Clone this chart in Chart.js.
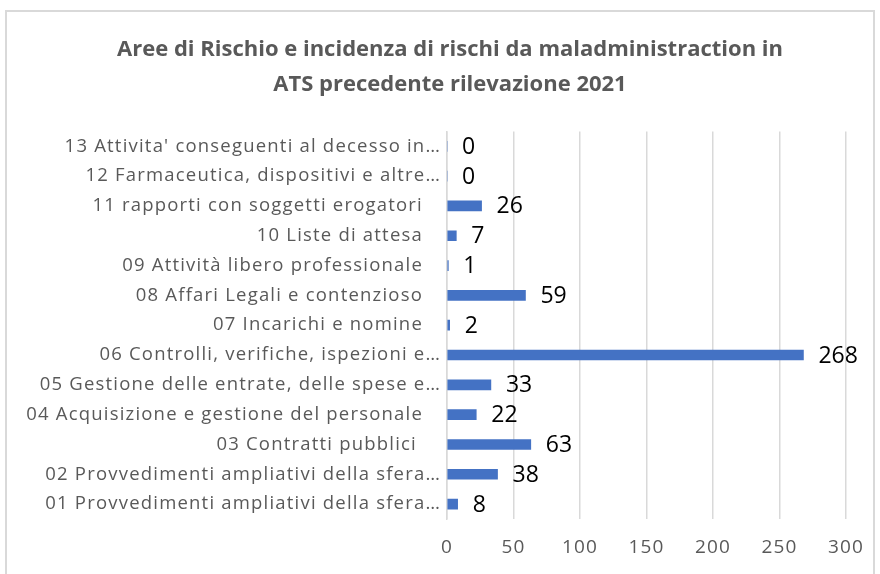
<!DOCTYPE html>
<html>
<head>
<meta charset="utf-8">
<script src="https://cdn.jsdelivr.net/npm/chart.js@4"></script>
<style>
  body { margin: 0; background: #fff; }
  #wrap { position: relative; width: 880px; height: 574px; overflow: hidden; }
  #frame { position: absolute; left: 5px; top: 10px; width: 870px; height: 600px; border: 2px solid #d9d9d9; box-sizing: border-box; }
  #riskChart { position: absolute; left: 0; top: 0; }
</style>
</head>
<body>
<div id="wrap">
  <div id="frame"></div>
  <canvas id="riskChart" width="880" height="574"></canvas>
</div>
<script>
const titleLines = [
  'Aree di Rischio e incidenza di rischi da maladministraction in',
  'ATS precedente rilevazione 2021'
];

// bottom to top, as in the picture
const areas = [
  '01 Provvedimenti ampliativi della sfera\u2026',
  '02 Provvedimenti ampliativi della sfera\u2026',
  '03 Contratti pubblici    ',
  '04 Acquisizione e gestione del personale   ',
  '05 Gestione delle entrate, delle spese e\u2026',
  '06 Controlli, verifiche, ispezioni e\u2026',
  '07 Incarichi e nomine   ',
  '08 Affari Legali e contenzioso   ',
  '09 Attività libero professionale   ',
  '10 Liste di attesa   ',
  '11 rapporti con soggetti erogatori   ',
  '12 Farmaceutica, dispositivi e altre\u2026',
  "13 Attivita' conseguenti al decesso in\u2026"
];
const risks = [8, 38, 63, 22, 33, 268, 2, 59, 1, 7, 26, 0, 0];

const xTicks = [0, 50, 100, 150, 200, 250, 300];

const FONT = '"Open Sans", sans-serif';

// axis text in the picture is spaced wider than Open Sans;
// tick labels are drawn after the datasets (ticks.z = 1) so only they get it
const axisSpacing = {
  id: 'axisSpacing',
  beforeDraw(chart) { chart.ctx.letterSpacing = '0px'; },
  afterDatasetsDraw(chart) { chart.ctx.letterSpacing = '1.2px'; },
  afterDraw(chart) { chart.ctx.letterSpacing = '0px'; }
};

const valueLabels = {
  id: 'valueLabels',
  afterDatasetsDraw(chart) {
    const ctx = chart.ctx;
    const meta = chart.getDatasetMeta(0);
    ctx.save();
    ctx.letterSpacing = '0px';
    ctx.font = '23px ' + FONT;
    ctx.fillStyle = '#000';
    ctx.textBaseline = 'middle';
    ctx.textAlign = 'left';
    meta.data.forEach((bar, i) => {
      ctx.fillText(String(risks[i]), bar.x + 15, bar.y + 1);
    });
    ctx.restore();
  }
};

new Chart(document.getElementById('riskChart'), {
  type: 'bar',
  data: {
    labels: areas,
    datasets: [{
      data: risks,
      backgroundColor: '#4472c4',
      borderWidth: 0,
      barThickness: 10
    }]
  },
  options: {
    indexAxis: 'y',
    responsive: false,
    animation: false,
    layout: { padding: { left: 24, right: 4, top: 8, bottom: 0 } },
    plugins: {
      legend: { display: false },
      tooltip: { enabled: false },
      title: {
        display: true,
        text: titleLines,
        color: '#595959',
        font: { family: FONT, size: 22, weight: 'bold', lineHeight: 1.6 },
        padding: { top: 24, bottom: 29 }
      }
    },
    scales: {
      y: {
        reverse: true,
        afterFit: s => { s.width = 423; },
        grid: { display: false, drawTicks: false },
        border: { display: true, color: '#d9d9d9', width: 1.5 },
        ticks: {
          z: 1,
          autoSkip: false,
          color: '#595959',
          padding: 6,
          font: { family: FONT, size: 18.5 }
        }
      },
      x: {
        min: 0,
        max: 300,
        afterBuildTicks: s => { s.ticks = xTicks.map(v => ({ value: v })); },
        afterFit: s => { s.height = 55; s.paddingRight = 34; },
        grid: { color: '#d9d9d9', lineWidth: 1.5, drawTicks: false },
        border: { display: false },
        ticks: {
          z: 1,
          color: '#595959',
          padding: 17,
          font: { family: FONT, size: 19 }
        }
      }
    }
  },
  plugins: [axisSpacing, valueLabels]
});
</script>
</body>
</html>
